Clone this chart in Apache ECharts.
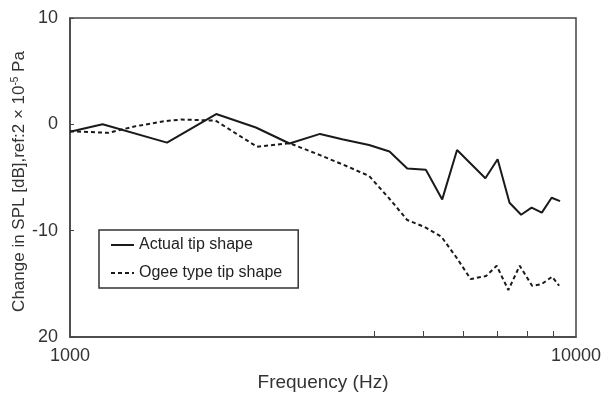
<!DOCTYPE html>
<html lang="en">
<head>
    <meta charset="UTF-8">
    <title>SPL change</title>
    <script type="text/javascript" src="https://cdn.jsdelivr.net/npm/echarts@6/dist/echarts.min.js"></script>
</head>
<body style="margin:0;background:#fff;">
<div id="main" style="height: 394px;width: 602px;"></div>
<script type="text/javascript">
    // solid line: actual tip shape
    var actualFreq = [1000, 1160, 1555, 1945, 2330, 2715, 3120, 3450, 3900, 4280, 4640, 5050, 5440, 5820, 6620, 7000, 7390, 7790, 8170, 8560, 8950, 9300];
    var actualSpl = [-0.7, 0.0, -1.72, 0.97, -0.3, -1.8, -0.9, -1.4, -1.95, -2.55, -4.15, -4.27, -7.06, -2.41, -5.07, -3.28, -7.37, -8.5, -7.84, -8.3, -6.9, -7.22];
    // dashed line: ogee type tip shape
    var ogeeFreq = [1000, 1190, 1340, 1540, 1660, 1940, 2340, 2715, 3120, 3450, 3900, 4280, 4640, 5020, 5420, 5820, 6190, 6640, 6970, 7350, 7740, 8190, 8540, 8970, 9260];
    var ogeeSpl = [-0.65, -0.8, -0.2, 0.3, 0.45, 0.35, -2.1, -1.77, -2.9, -3.75, -4.85, -7.0, -9.0, -9.65, -10.57, -12.6, -14.55, -14.27, -13.3, -15.58, -13.3, -15.18, -15.05, -14.33, -15.18];

    var xLabelValues = [1000, 10000];
    var xMinorTicks = [4000, 5000, 6000, 7000, 8000, 9000];
    var yTickLabels = {'10': '10', '0': '0', '-10': '-10', '-20': '20'};

    function pairs(xs, ys) {
        return xs.map(function (x, i) { return [x, ys[i]]; });
    }

    var font = 'Liberation Sans, Arial, Helvetica, sans-serif';
    var myChart = echarts.init(document.getElementById('main'));
    var option = {
        animation: false,
        textStyle: {fontFamily: font, color: '#333'},
        grid: {
            left: 70, right: 26, top: 18, bottom: 57,
            outerBoundsMode: 'none',
            containLabel: false,
            show: true, borderColor: '#444', borderWidth: 1.5
        },
        legend: {
            orient: 'vertical',
            left: 99, top: 230,
            padding: [7, 16, 7, 11],
            itemGap: 12,
            itemWidth: 23, itemHeight: 17,
            borderColor: '#333', borderWidth: 1.5,
            itemStyle: {opacity: 0},
            textStyle: {fontFamily: font, fontSize: 16, color: '#222'},
            data: ['Actual tip shape', 'Ogee type tip shape']
        },
        xAxis: {
            type: 'log',
            logBase: 10,
            min: 1000,
            max: 10000,
            name: 'Frequency (Hz)',
            nameLocation: 'middle',
            nameGap: 36,
            nameTextStyle: {fontSize: 19, color: '#333', fontFamily: font},
            axisLine: {show: true, onZero: false, lineStyle: {color: '#444', width: 1.5}},
            axisTick: {show: true, inside: true, length: 6, customValues: xMinorTicks, lineStyle: {color: '#444'}},
            axisLabel: {
                fontSize: 18, color: '#333', margin: 10, customValues: xLabelValues,
                formatter: function (v) { return String(v); }
            },
            splitLine: {show: false},
            minorTick: {show: false}
        },
        yAxis: {
            type: 'value',
            min: -20,
            max: 10,
            interval: 10,
            name: '{a|Change in SPL [dB],ref:2 × 10}{b|-5}{a| Pa}',
            nameLocation: 'middle',
            nameGap: 42,
            nameMoveOverlap: false,
            nameTextStyle: {
                padding: [0, 8, 0, 0],
                rich: {
                    a: {fontSize: 17, color: '#333', fontFamily: font},
                    b: {fontSize: 10, color: '#333', fontFamily: font, verticalAlign: 'top', padding: [0, 0, 8, 0]}
                }
            },
            axisLine: {show: true, onZero: false, lineStyle: {color: '#444', width: 1.5}},
            axisTick: {show: true, inside: true, length: 4, lineStyle: {color: '#444'}},
            axisLabel: {
                fontSize: 18, color: '#333', margin: 12,
                formatter: function (v) { return yTickLabels[String(v)]; }
            },
            splitLine: {show: false}
        },
        series: [{
            name: 'Actual tip shape',
            type: 'line',
            symbol: 'none',
            data: pairs(actualFreq, actualSpl),
            lineStyle: {color: '#1a1a1a', width: 2, type: 'solid'},
            itemStyle: {color: '#1a1a1a'}
        }, {
            name: 'Ogee type tip shape',
            type: 'line',
            symbol: 'none',
            data: pairs(ogeeFreq, ogeeSpl),
            lineStyle: {color: '#1a1a1a', width: 2, type: [4, 3]},
            itemStyle: {color: '#1a1a1a'}
        }]
    };
    option && myChart.setOption(option);
</script>
</body>
</html>
